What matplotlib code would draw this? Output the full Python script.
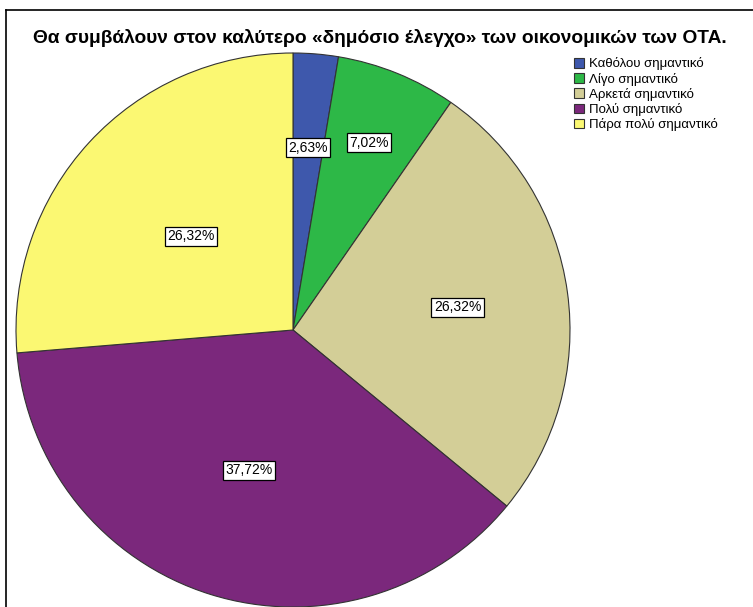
import numpy as np
import matplotlib.pyplot as plt
from matplotlib.lines import Line2D

plt.rcParams['font.family'] = ['Liberation Sans', 'DejaVu Sans']

title = 'Θα συμβάλουν στον καλύτερο «δημόσιο έλεγχο» των οικονομικών των ΟΤΑ.'
categories = ['Καθόλου σημαντικό', 'Λίγο σημαντικό', 'Αρκετά σημαντικό',
              'Πολύ σημαντικό', 'Πάρα πολύ σημαντικό']
percents = [2.63, 7.02, 26.32, 37.72, 26.32]
colors = ['#3E58AC', '#2DB847', '#D3CE97', '#7B287C', '#FBF872']
# radial position of each percentage box, as a fraction of the radius
label_radius = [0.66, 0.73, 0.60, 0.53, 0.50]

W, H = 753, 607
fig = plt.figure(figsize=(W / 100, H / 100), dpi=100)

# pie centre at (293, 330) px, radius 277 px
cx, cy, r = 293, 330, 277
ax = fig.add_axes([(cx - r) / W, 1 - (cy + r) / H, 2 * r / W, 2 * r / H])
wedges, _ = ax.pie(percents, colors=colors, startangle=90, counterclock=False,
                   radius=1, wedgeprops=dict(edgecolor='#333333', linewidth=0.8))
ax.set_xlim(-1, 1)
ax.set_ylim(-1, 1)
ax.axis('off')

for w, p, lr in zip(wedges, percents, label_radius):
    ang = np.deg2rad((w.theta1 + w.theta2) / 2)
    ax.text(lr * np.cos(ang), lr * np.sin(ang), f'{p:.2f}%'.replace('.', ','),
            ha='center', va='center', fontsize=10,
            bbox=dict(boxstyle='square,pad=0.18', fc='white', ec='black', lw=0.9))

fig.text(380 / W, 1 - 38 / H, title, ha='center', va='center',
         fontsize=13.8, fontweight='bold')

fig.legend(wedges, categories, loc='upper left',
           bbox_to_anchor=(569 / W, 1 - 52 / H), frameon=False,
           fontsize=9.5, handlelength=0.75, handleheight=0.75,
           handletextpad=0.35, labelspacing=0.17, borderaxespad=0)

# outer frame (top and left edges visible)
fig.add_artist(Line2D([6 / W, 6 / W], [0, 1 - 10 / H], color='black', lw=1.2,
                      transform=fig.transFigure))
fig.add_artist(Line2D([6 / W, 1], [1 - 10 / H, 1 - 10 / H], color='black', lw=1.2,
                      transform=fig.transFigure))

fig.savefig('out.png', dpi=100, facecolor='white')
